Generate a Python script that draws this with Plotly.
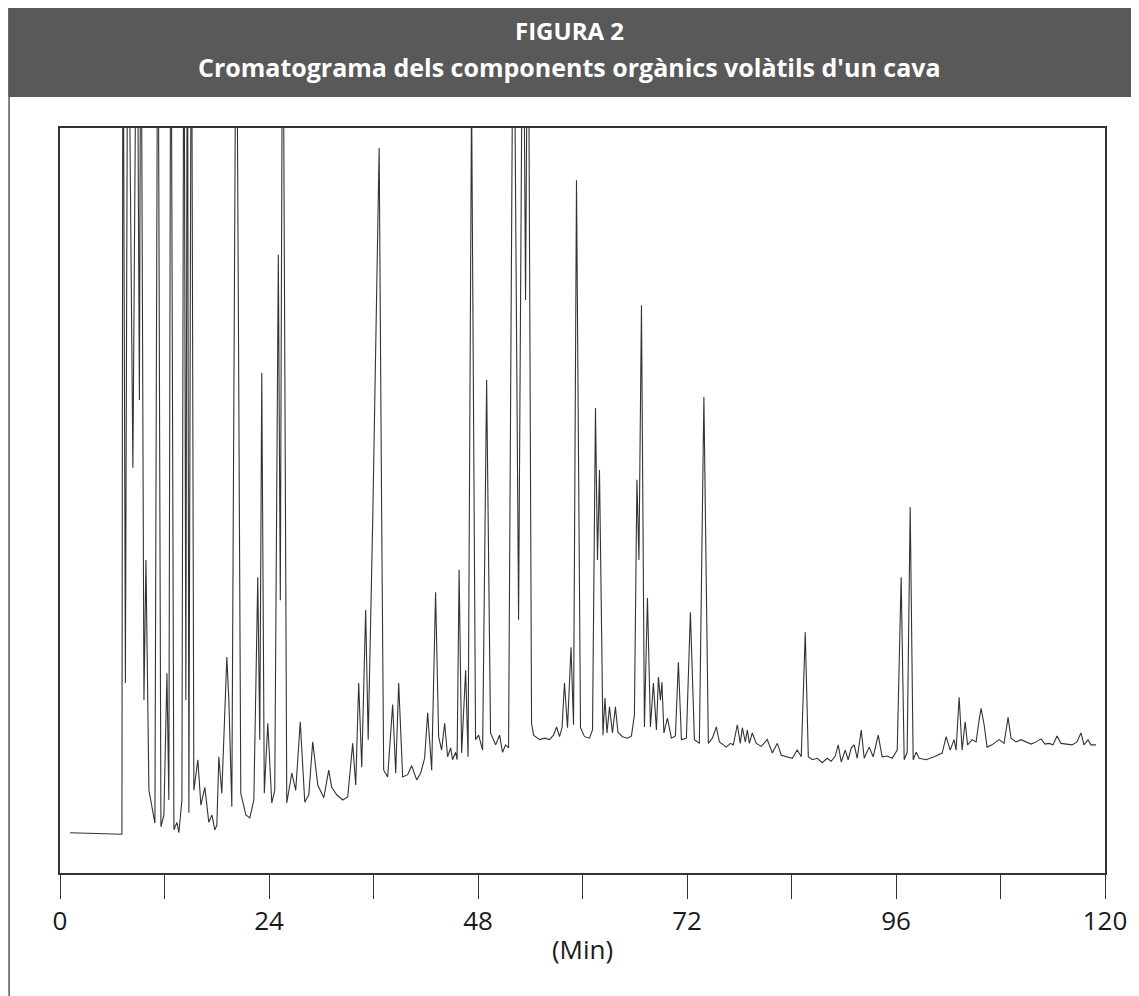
import plotly.graph_objects as go

# Retention time (min) and detector signal (% of full scale)
time_min = [
    1.15, 7.11, 7.23, 7.51, 7.80, 8.37, 8.83, 9.12, 9.29, 9.64, 9.87, 10.21, 10.90, 11.24, 11.59,
    11.93, 12.28, 12.50, 12.73, 13.08, 13.42, 13.65, 14.00, 14.23, 14.45, 14.63, 14.80, 15.09, 15.37,
    15.83, 16.18, 16.63, 17.09, 17.44, 17.78, 18.01, 18.24, 18.58, 19.16, 19.39, 19.73, 20.25, 20.76,
    21.34, 21.80, 22.26, 22.71, 22.94, 23.17, 23.46, 23.86, 24.32, 24.66, 25.07, 25.30, 25.58, 26.04,
    26.62, 27.07, 27.59, 28.11, 28.57, 29.02, 29.60, 30.29, 30.86, 31.20, 31.78, 32.47, 33.04, 33.61,
    33.96, 34.30, 34.65, 35.10, 35.39, 35.91, 36.65, 36.94, 37.17, 37.63, 38.20, 38.55, 38.89, 39.35,
    39.92, 40.38, 40.96, 41.41, 41.87, 42.22, 42.68, 43.13, 43.48, 43.82, 44.17, 44.51, 44.86, 45.08,
    45.43, 45.60, 45.83, 46.12, 46.58, 46.86, 47.26, 47.72, 48.07, 48.53, 48.99, 49.44, 50.02, 50.48,
    50.82, 51.17, 51.51, 52.08, 52.66, 53.17, 53.46, 53.75, 54.15, 54.38, 55.07, 55.64, 56.21, 56.67,
    57.02, 57.36, 57.65, 57.93, 58.28, 58.68, 58.97, 59.31, 59.77, 60.23, 60.80, 61.15, 61.49, 61.72,
    61.95, 62.35, 62.58, 62.81, 63.10, 63.44, 63.78, 64.07, 64.59, 65.16, 65.62, 65.96, 66.25, 66.48,
    66.77, 67.11, 67.46, 67.80, 68.14, 68.49, 68.72, 68.95, 69.12, 69.35, 69.75, 70.21, 70.67, 71.01,
    71.36, 71.93, 72.39, 72.85, 73.42, 73.94, 74.45, 74.91, 75.37, 75.72, 76.52, 76.98, 77.32, 77.78,
    78.12, 78.35, 78.70, 78.93, 79.16, 79.50, 79.96, 80.53, 81.22, 81.80, 82.37, 82.83, 83.40, 84.09,
    84.66, 85.12, 85.58, 85.93, 86.38, 86.96, 87.53, 88.10, 88.56, 89.02, 89.37, 89.71, 90.17, 90.51,
    90.86, 91.20, 91.55, 92.01, 92.35, 92.92, 93.38, 93.96, 94.41, 94.99, 95.56, 96.14, 96.59, 96.94,
    97.28, 97.63, 97.97, 98.32, 98.66, 99.46, 100.38, 101.30, 101.76, 102.22, 102.67, 102.90, 103.25,
    103.59, 103.94, 104.22, 104.74, 105.20, 105.54, 105.77, 106.12, 106.46, 107.03, 107.84, 108.41,
    108.87, 109.21, 109.79, 110.36, 110.93, 111.51, 112.08, 112.66, 113.11, 113.57, 114.03, 114.49,
    114.95, 115.52, 116.21, 116.78, 117.24, 117.59, 118.05, 118.39, 118.96,
]
signal = [
    5.4, 5.2, 130, 25.5, 130, 54.4, 130, 63.5, 130, 23.2, 42.0, 11.1, 6.7, 130, 6.2,
    7.8, 26.8, 9.8, 130, 5.8, 6.8, 5.4, 9.8, 130, 23.2, 130, 8.1, 130, 11.1,
    15.2, 9.1, 11.5, 6.8, 7.8, 5.8, 6.4, 15.6, 10.7, 29.0, 23.2, 8.9, 130, 10.7,
    7.8, 7.4, 9.8, 39.7, 17.9, 67.1, 10.7, 20.1, 9.4, 11.1, 83.0, 36.6, 130, 9.4,
    13.4, 11.1, 20.3, 9.5, 10.5, 17.6, 11.8, 10.1, 13.8, 11.5, 10.5, 9.8, 10.2, 17.4,
    11.8, 25.5, 14.2, 35.3, 17.9, 47.4, 97.3, 47.4, 13.8, 12.9, 22.6, 13.4, 25.5, 12.9,
    13.2, 14.4, 12.5, 13.4, 15.4, 21.5, 13.8, 37.7, 18.3, 16.5, 20.1, 15.6, 16.8, 15.2,
    16.2, 15.2, 40.7, 16.1, 27.2, 15.6, 105, 17.9, 18.5, 16.5, 66.2, 18.8, 17.2, 18.5,
    16.2, 17.2, 16.8, 130, 34.0, 130, 76.9, 130, 20.1, 18.5, 17.9, 18.1, 17.9, 18.5,
    19.6, 18.3, 19.5, 25.5, 19.5, 30.3, 19.9, 93.0, 19.5, 18.3, 18.1, 19.2, 62.4, 42.0,
    54.1, 18.5, 23.5, 18.8, 22.3, 18.8, 22.3, 18.9, 18.3, 18.1, 18.4, 21.2, 52.8, 42.0,
    76.2, 19.6, 36.9, 19.6, 25.5, 19.2, 26.3, 23.2, 25.6, 18.8, 20.8, 18.1, 18.4, 28.3,
    17.9, 18.1, 35.0, 17.9, 17.4, 63.9, 17.4, 18.1, 19.6, 17.6, 16.9, 17.4, 17.2, 19.9,
    17.4, 19.5, 17.6, 19.2, 17.4, 18.8, 17.4, 17.0, 17.9, 16.1, 17.4, 15.8, 15.6, 15.4,
    16.5, 15.6, 32.3, 15.6, 15.2, 15.4, 14.8, 15.4, 15.0, 15.7, 17.2, 14.9, 16.5, 15.2,
    16.8, 17.2, 15.4, 19.2, 15.4, 16.9, 15.6, 18.5, 15.6, 15.7, 15.4, 16.5, 39.7, 15.2,
    16.2, 49.1, 15.2, 16.2, 15.4, 15.2, 15.6, 16.1, 18.3, 16.5, 17.9, 16.5, 23.6,
    16.5, 20.3, 17.2, 17.9, 17.6, 20.5, 22.1, 19.9, 16.9, 17.2, 17.9, 17.4,
    20.9, 18.1, 17.6, 17.9, 17.6, 17.3, 17.6, 18.0, 17.3, 17.4, 17.2, 18.4,
    17.4, 17.3, 17.2, 17.6, 18.8, 17.2, 17.9, 17.2, 17.2,
]

tick_values = [0, 12, 24, 36, 48, 60, 72, 84, 96, 108, 120]
tick_labels = ["0", "", "24", "", "48", "", "72", "", "96", "", "120"]

fig_title = "FIGURA 2"
fig_subtitle = "Cromatograma dels components orgànics volàtils d'un cava"
x_title = "(Min)"

# page offset of the figure inside the browser page (default body margin)
OFF = 8
W, H = 1131, 988
L, T = 52, 120
R = W - (1107 - OFF)
B = H - (873 - OFF)
pw, ph = W - L - R, H - T - B


def px_x(p):
    return (p - OFF - L) / pw


def px_y(p):
    return (H - B - (p - OFF)) / ph


fig = go.Figure()
fig.add_trace(go.Scatter(
    x=time_min, y=signal, mode="lines",
    line=dict(color="#333333", width=1.1),
    hoverinfo="skip", showlegend=False,
))

fig.update_layout(
    width=W, height=H,
    margin=dict(l=L, r=R, t=T, b=B),
    paper_bgcolor="white", plot_bgcolor="white",
    showlegend=False,
    font=dict(family="Open Sans", color="#1a1a1a"),
    xaxis=dict(
        range=[0, 120], tickmode="array", tickvals=tick_values, ticktext=tick_labels,
        ticks="outside", ticklen=24, tickwidth=1.3, tickcolor="#333",
        showline=True, mirror=True, linecolor="#333", linewidth=1.5,
        showgrid=False, zeroline=False,
        tickfont=dict(family="Open Sans", size=26, color="#1a1a1a"),
        title=dict(text=x_title, font=dict(family="Open Sans", size=26, color="#1a1a1a"), standoff=4),
    ),
    yaxis=dict(
        range=[0, 100], showticklabels=False, ticks="",
        showline=True, mirror=True, linecolor="#333", linewidth=1.5,
        showgrid=False, zeroline=False,
    ),
    shapes=[
        dict(type="rect", xref="paper", yref="paper",
             x0=px_x(OFF), x1=px_x(1139), y0=px_y(97), y1=px_y(OFF),
             fillcolor="#595959", line=dict(width=0), layer="below"),
        dict(type="line", xref="paper", yref="paper",
             x0=px_x(OFF + 1), x1=px_x(OFF + 1), y0=px_y(97), y1=px_y(996),
             line=dict(color="#555", width=1.5)),
    ],
    annotations=[
        dict(text="<b>" + fig_title + "</b>", xref="paper", yref="paper",
             x=px_x(570), y=px_y(31), xanchor="center", yanchor="middle", showarrow=False,
             font=dict(family="Open Sans", size=24, color="white")),
        dict(text="<b>" + fig_subtitle + "</b>", xref="paper", yref="paper",
             x=px_x(570), y=px_y(67), xanchor="center", yanchor="middle", showarrow=False,
             font=dict(family="Open Sans", size=25, color="white")),
    ],
)

fig.write_html("out.html")
